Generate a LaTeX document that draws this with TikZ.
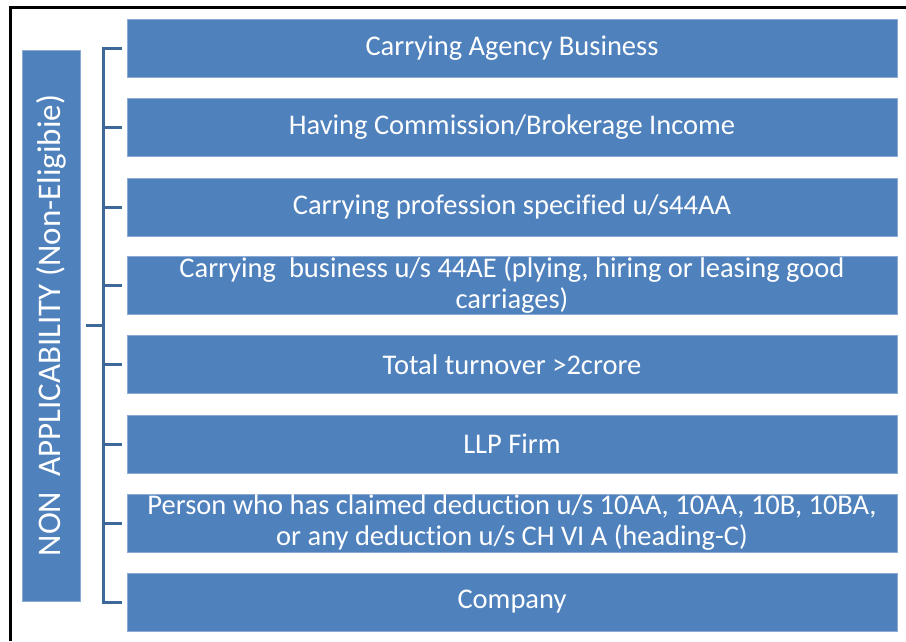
\documentclass[tikz,border=0pt]{standalone}
\usepackage{fontspec}
\setmainfont{Carlito}[Ligatures=NoCommon]
\definecolor{boxblue}{HTML}{4F81BD}
\definecolor{boxedge}{HTML}{8CAAD6}
\definecolor{brk}{HTML}{3D6899}
\begin{document}
\begin{tikzpicture}[x=1pt,y=-1pt,
  item/.style={fill=boxblue,draw=boxedge,line width=0.8pt,minimum width=770pt,minimum height=58pt,
    inner sep=0pt,text=white,align=center,
    font=\fontsize{28.5}{31}\selectfont},
  sidebox/.style={fill=boxblue,draw=boxedge,line width=0.8pt,minimum width=551pt,minimum height=58pt,
    inner sep=0pt,text=white,rotate=90,font=\fontsize{33}{36}\selectfont},
  brkline/.style={draw=brk,line width=3pt}]
\useasboundingbox (0,0) rectangle (906,641);
\fill[white] (0,0) rectangle (906,641);
\draw[line width=3pt] (10,641) -- (10,7.5) -- (906,7.5);
\node[item] (b1) at (512,48) {\raisebox{-1.5pt}{Carrying Agency Business}};
\node[item] (b2) at (512,127) {\raisebox{-1.5pt}{Having Commission/Brokerage Income}};
\node[item] (b3) at (512,207) {\raisebox{-1.5pt}{Carrying profession specified u/s44AA}};
\node[item] (b4) at (512,285.5) {Carrying\ \ business u/s 44AE (plying, hiring or leasing good\\carriages)};
\node[item] (b5) at (512,364.5) {\raisebox{-1.5pt}{Total turnover >2crore}};
\node[item] (b6) at (512,444) {\raisebox{-1.5pt}{LLP Firm}};
\node[item] (b7) at (512,523) {Person who has claimed deduction u/s 10AA, 10AA, 10B, 10BA,\\or any deduction u/s CH VI A (heading-C)};
\node[item] (b8) at (512,602) {\raisebox{-1.5pt}{Company}};
\node[sidebox] (side) at (51,325.5) {\raisebox{-2pt}{NON\ \ APPLICABILITY (Non-Eligibie)}};
\coordinate (top) at (103.5,48);
\coordinate (bot) at (103.5,602);
\coordinate (mid) at (103.5,325);
\coordinate (midl) at (86,325);
\draw[brkline] ([xshift=-5pt]b1.west) -- (top) -- (bot) -- ([xshift=-5pt]b8.west);
\foreach \b in {b2,b3,b4,b5,b6,b7}
  \draw[brkline] (\b.west -| top) -- ([xshift=-5pt]\b.west);
\draw[brkline] (midl) -- (mid);
\end{tikzpicture}
\end{document}
